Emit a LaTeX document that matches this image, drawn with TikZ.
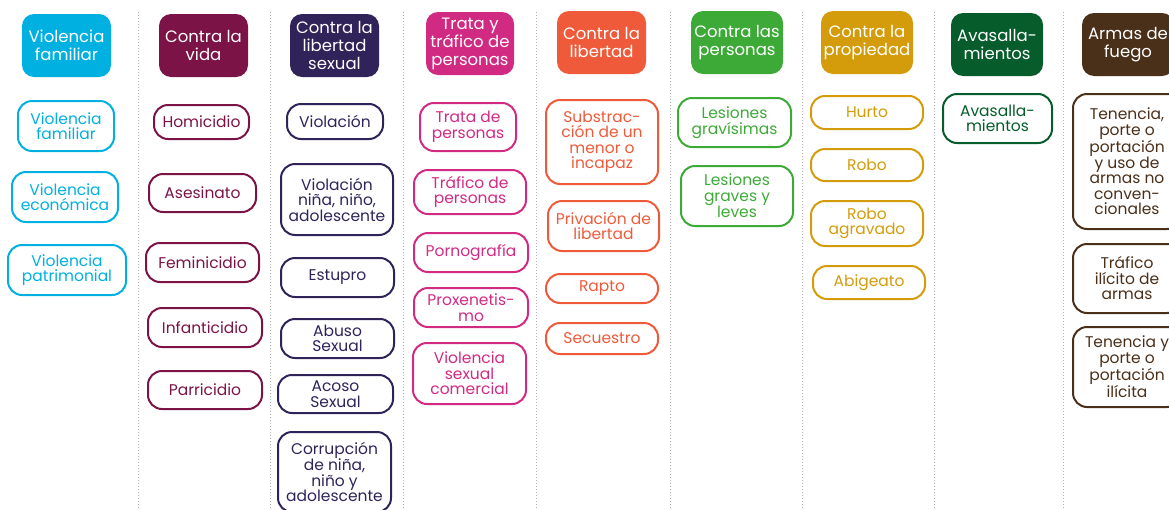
\documentclass[tikz,border=0pt]{standalone}
\usepackage{fontspec}
\setmainfont{Poppins}
\definecolor{cfam}{RGB}{0,176,224}
\definecolor{cvida}{RGB}{123,19,70}
\definecolor{csex}{RGB}{47,35,89}
\definecolor{ctrata}{RGB}{209,42,131}
\definecolor{clib}{RGB}{238,90,58}
\definecolor{cpers}{RGB}{61,170,56}
\definecolor{cprop}{RGB}{212,156,11}
\definecolor{cavas}{RGB}{6,92,42}
\definecolor{carmas}{RGB}{74,47,25}
\begin{document}
\begin{tikzpicture}[x=1pt,y=-1pt,
    every node/.style={align=center,inner sep=1pt},
    sz/.style 2 args={minimum width=#1pt,minimum height=#2pt},
    cat/.style={fill=#1,text=white,rounded corners=12pt,
      font=\fontsize{16.5}{18}\selectfont},
    crime/.style={draw=#1,text=#1,line width=2pt,rounded corners=14pt,
      font=\fontsize{15.5}{15.5}\selectfont},
    sep/.style={gray!60,dotted,line width=1pt}]
    \clip (0,0) rectangle (1169,509);
    \foreach \x in {138,270,403,536,670,802,934,1063}
      \draw[sep] (\x,12) -- (\x,509);
    % encabezados
    \node[cat=cfam,sz={89}{63}] (hfam) at (66.5,45.5) {Violencia\\familiar};
    \node[cat=cvida,sz={89}{63}] (hvida) at (203.5,45.5) {Contra la\\vida};
    \node[cat=csex,sz={89}{63}] (hsex) at (334.5,45.5) {Contra la\\libertad\\sexual};
    \node[cat=ctrata,sz={88}{63}] (htrata) at (470,43.5) {Trata y\\tráfico de\\personas};
    \node[cat=clib,sz={89}{63}] (hlib) at (601.5,42.5) {Contra la\\libertad};
    \node[cat=cpers,sz={92}{63}] (hpers) at (737,42.5) {Contra las\\personas};
    \node[cat=cprop,sz={92}{63}] (hprop) at (867,42.5) {Contra la\\propiedad};
    \node[cat=cavas,sz={92}{63}] (havas) at (997,44.5) {Avasalla-\\mientos};
    \node[cat=carmas,sz={92}{63}] (harmas) at (1128,44.5) {Armas de\\fuego};
    % violencia familiar
    \node[crime=cfam,sz={96}{50}] (fam1) at (66,126) {Violencia\\familiar};
    \node[crime=cfam,sz={106}{50}] (fam2) at (65,197) {Violencia\\económica};
    \node[crime=cfam,sz={118}{50}] (fam3) at (67,270) {Violencia\\patrimonial};
    % contra la vida
    \node[crime=cvida,sz={95}{34}] (vida1) at (201.5,122) {Homicidio};
    \node[crime=cvida,sz={107}{38}] (vida2) at (202.5,193) {Asesinato};
    \node[crime=cvida,sz={113}{39}] (vida3) at (202.5,262.5) {Feminicidio};
    \node[crime=cvida,sz={114}{39}] (vida4) at (205,327.5) {Infanticidio};
    \node[crime=cvida,sz={114}{38}] (vida5) at (205,390) {Parricidio};
    % libertad sexual
    \node[crime=csex,sz={96}{35}] (sex1) at (335,121.5) {Violación};
    \node[crime=csex,sz={112}{71}] (sex2) at (337,199.5) {Violación\\niña, niño,\\adolescente};
    \node[crime=csex,sz={113}{39}] (sex3) at (337.5,277.5) {Estupro};
    \node[crime=csex,sz={113}{39}] (sex4) at (337.5,338.5) {Abuso\\Sexual};
    \node[crime=csex,sz={115}{38}] (sex5) at (335.5,394) {Acoso\\Sexual};
    \node[crime=csex,sz={113}{80}] (sex6) at (334.5,472) {Corrupción\\de niña,\\niño y\\adolescente};
    % trata
    \node[crime=ctrata,sz={96}{48}] (trata1) at (468,127) {Trata de\\personas};
    \node[crime=ctrata,sz={112}{44}] (trata2) at (470,192) {Tráfico de\\personas};
    \node[crime=ctrata,sz={114}{39}] (trata3) at (471,252.5) {Pornografía};
    \node[crime=ctrata,sz={114}{39}] (trata4) at (471,307.5) {Proxenetis-\\mo};
    \node[crime=ctrata,sz={113}{61}] (trata5) at (469.5,373.5) {Violencia\\sexual\\comercial};
    % contra la libertad
    \node[crime=clib,sz={112}{84}] (lib1) at (602,142) {Substrac-\\ción de un\\menor o\\incapaz};
    \node[crime=clib,sz={111}{50}] (lib2) at (603.5,226) {Privación de\\libertad};
    \node[crime=clib,sz={112}{29}] (lib3) at (602,288.5) {Rapto};
    \node[crime=clib,sz={112}{31}] (lib4) at (602,338.5) {Secuestro};
    % contra las personas
    \node[crime=cpers,sz={113}{49}] (pers1) at (734.5,122.5) {Lesiones\\gravísimas};
    \node[crime=cpers,sz={112}{60}] (pers2) at (737,196) {Lesiones\\graves y\\leves};
    % contra la propiedad
    \node[crime=cprop,sz={112}{33}] (prop1) at (867,112.5) {Hurto};
    \node[crime=cprop,sz={112}{32}] (prop2) at (867,165) {Robo};
    \node[crime=cprop,sz={112}{45}] (prop3) at (867,223.5) {Robo\\agravado};
    \node[crime=cprop,sz={112}{33}] (prop4) at (869,282.5) {Abigeato};
    % avasallamientos
    \node[crime=cavas,sz={109}{49}] (avas1) at (997.5,118.5) {Avasalla-\\mientos};
    % armas de fuego
    \node[crime=carmas,sz={108}{135}] (armas1) at (1127,161.5) {Tenencia,\\porte o\\portación\\y uso de\\armas no\\conven-\\cionales};
    \node[crime=carmas,sz={108}{69}] (armas2) at (1127,278.5) {Tráfico\\ilícito de\\armas};
    \node[crime=carmas,sz={108}{80}] (armas3) at (1127,367) {Tenencia y\\porte o\\portación\\ilícita};
\end{tikzpicture}
\end{document}
